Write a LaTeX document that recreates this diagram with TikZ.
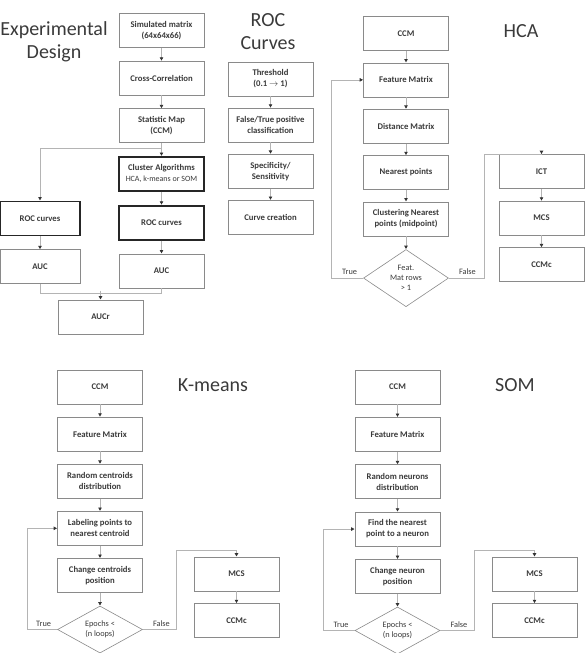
\documentclass[tikz,border=0pt]{standalone}
\usepackage{fontspec}
\setmainfont{Carlito}
\usetikzlibrary{positioning}
\usetikzlibrary{arrows.meta}
\usetikzlibrary{shapes.geometric}

\definecolor{boxgray}{HTML}{8A8A8A}
\definecolor{linegray}{HTML}{B4B4B4}
\definecolor{txtgray}{HTML}{3A3A3A}

\tikzset{
  box/.style={draw=boxgray, line width=0.6pt, fill=white, text=txtgray,
    minimum width=85pt, minimum height=34pt, inner sep=2pt, align=center,
    font=\fontsize{8.7}{11}\selectfont\bfseries},
  boldbox/.style={box, draw=black!85, line width=1.8pt},
  decision/.style={diamond, draw=boxgray, line width=0.6pt, text=txtgray,
    minimum width=85pt, minimum height=47pt, inner sep=0pt, align=center,
    font=\fontsize{8.3}{10}\selectfont},
  link/.style={draw=linegray, line width=0.7pt},
  arr/.style={link, -{Latex[length=3.5pt,width=4pt,color=black!80]}},
  title/.style={text=txtgray, align=center, font=\fontsize{20}{23}\selectfont},
  lbl/.style={text=txtgray, inner sep=1pt, font=\fontsize{8.3}{10}\selectfont},
}

\begin{document}
\begin{tikzpicture}[x=1pt,y=-1pt]
    \useasboundingbox (0,0) rectangle (588,653);
    %% Experimental Design
    \node[title] (tex) at (54,41.5) {Experimental\\Design};
    \node[box] (sim) at (161.5,30.5) {Simulated matrix\\(64x64x66)};
    \node[box, below=13pt of sim] (xcor) {Cross-Correlation};
    \node[box, below=13pt of xcor] (stat) {Statistic Map\\(CCM)};
    \node[boldbox, below=13pt of stat] (clus)
    {Cluster Algorithms\\{\mdseries\fontsize{8}{10}\selectfont HCA, k-means or SOM}};
    \node[boldbox, below=13pt of clus] (roc2) {ROC curves};
    \node[box, below=13pt of roc2] (auc2) {AUC};
    \node[boldbox, minimum width=80pt] (roc1) at (40,218.5) {ROC curves};
    \node[box, minimum width=80pt, below=13pt of roc1] (auc1) {AUC};
    \node[box] (aucr) at (100.5,317) {AUCr};
    %---
    \draw[arr] (sim) -- (xcor);
    \draw[arr] (xcor) -- (stat);
    \draw[arr] (stat) -- (clus);
    \draw[arr] (clus) -- (roc2);
    \draw[arr] (roc2) -- (auc2);
    \draw[arr] (roc1) -- (auc1);
    \draw[arr] (stat.south) -- ++(0,-5pt) -| (roc1.north);
    \draw[link] (auc1.south) -- ++(0,-9pt) -| (auc2.south);
    \draw[arr] ([yshift=9pt]aucr.north) -- (aucr.north);
    %% ROC Curves
    \node[title] (troc) at (268,32) {ROC\\Curves};
    \node[box] (thr) at (270.5,79) {Threshold\\(0.1 $\rightarrow$ 1)};
    \node[box, below=11.5pt of thr] (ftp) {False/True positive\\classification};
    \node[box, below=11.5pt of ftp] (spec) {Specificity/\\Sensitivity};
    \node[box, below=11.5pt of spec] (curv) {Curve creation};
    %---
    \draw[arr] (thr) -- (ftp);
    \draw[arr] (ftp) -- (spec);
    \draw[arr] (spec) -- (curv);
    %% HCA
    \node[title] (thca) at (521,31) {HCA};
    \node[box] (hccm) at (406,33.5) {CCM};
    \node[box, below=11.75pt of hccm] (hfm) {Feature Matrix};
    \node[box, below=11.75pt of hfm] (hdm) {Distance Matrix};
    \node[box, below=11.75pt of hdm] (hnp) {Nearest points};
    \node[box, below=11.75pt of hnp] (hcnp) {Clustering Nearest\\points (midpoint)};
    \node[decision, below=13pt of hcnp] (hdia) {Feat.\\Mat rows\\> 1};
    \node[box] (hict) at (541.5,171.5) {ICT};
    \node[box, below=12pt of hict] (hmcs) {MCS};
    \node[box, below=12pt of hmcs] (hccmc) {CCMc};
    %---
    \draw[arr] (hccm) -- (hfm);
    \draw[arr] (hfm) -- (hdm);
    \draw[arr] (hdm) -- (hnp);
    \draw[arr] (hnp) -- (hcnp);
    \draw[arr] (hcnp) -- (hdia);
    \draw[arr] (hict) -- (hmcs);
    \draw[arr] (hmcs) -- (hccmc);
    \draw[arr] (hdia.west) -- ++(-32pt,0) |- (hfm.west);
    \draw[arr] (hdia.east) -- ++(36pt,0) -- ++(0,124pt) -| (hict.north);
    \node[lbl, above left=2pt and 5pt of hdia.west] (htrue) {True};
    \node[lbl, above right=2pt and 9pt of hdia.east] (hfalse) {False};
    %% K-means
    \node[title] (tkm) at (213,385) {K-means};
    \node[box] (kccm) at (100,387) {CCM};
    \node[box, below=12.5pt of kccm] (kfm) {Feature Matrix};
    \node[box, below=12.5pt of kfm] (krcd) {Random centroids\\distribution};
    \node[box, below=12.5pt of krcd] (klab) {Labeling points to\\nearest centroid};
    \node[box, below=12.5pt of klab] (kchg) {Change centroids\\position};
    \node[decision, below=13pt of kchg] (kdia) {Epochs <\\(n loops)};
    \node[box] (kmcs) at (236.5,574) {MCS};
    \node[box, below=12pt of kmcs] (kccmc) {CCMc};
    %---
    \draw[arr] (kccm) -- (kfm);
    \draw[arr] (kfm) -- (krcd);
    \draw[arr] (krcd) -- (klab);
    \draw[arr] (klab) -- (kchg);
    \draw[arr] (kchg) -- (kdia);
    \draw[arr] (kmcs) -- (kccmc);
    \draw[arr] (kdia.west) -- ++(-30pt,0) |- (klab.west);
    \draw[arr] (kdia.east) -- ++(34pt,0) -- ++(0,79.5pt) -| (kmcs.north);
    \node[lbl, above left=2pt and 5pt of kdia.west] (ktrue) {True};
    \node[lbl, above right=2pt and 9pt of kdia.east] (kfalse) {False};
    %% SOM
    \node[title] (tsom) at (515,385) {SOM};
    \node[box] (sccm) at (397.5,387) {CCM};
    \node[box, below=12.75pt of sccm] (sfm) {Feature Matrix};
    \node[box, below=12.75pt of sfm] (srnd) {Random neurons\\distribution};
    \node[box, below=12.75pt of srnd] (sfind) {Find the nearest\\point to a neuron};
    \node[box, below=12.75pt of sfind] (schg) {Change neuron\\position};
    \node[decision, below=13pt of schg] (sdia) {Epochs <\\(n loops)};
    \node[box] (smcs) at (534.5,574) {MCS};
    \node[box, below=12pt of smcs] (sccmc) {CCMc};
    %---
    \draw[arr] (sccm) -- (sfm);
    \draw[arr] (sfm) -- (srnd);
    \draw[arr] (srnd) -- (sfind);
    \draw[arr] (sfind) -- (schg);
    \draw[arr] (schg) -- (sdia);
    \draw[arr] (smcs) -- (sccmc);
    \draw[arr] (sdia.west) -- ++(-31pt,0) |- (sfind.west);
    \draw[arr] (sdia.east) -- ++(34pt,0) -- ++(0,80pt) -| (smcs.north);
    \node[lbl, above left=2pt and 5pt of sdia.west] (strue) {True};
    \node[lbl, above right=2pt and 9pt of sdia.east] (sfalse) {False};
\end{tikzpicture}
\end{document}
